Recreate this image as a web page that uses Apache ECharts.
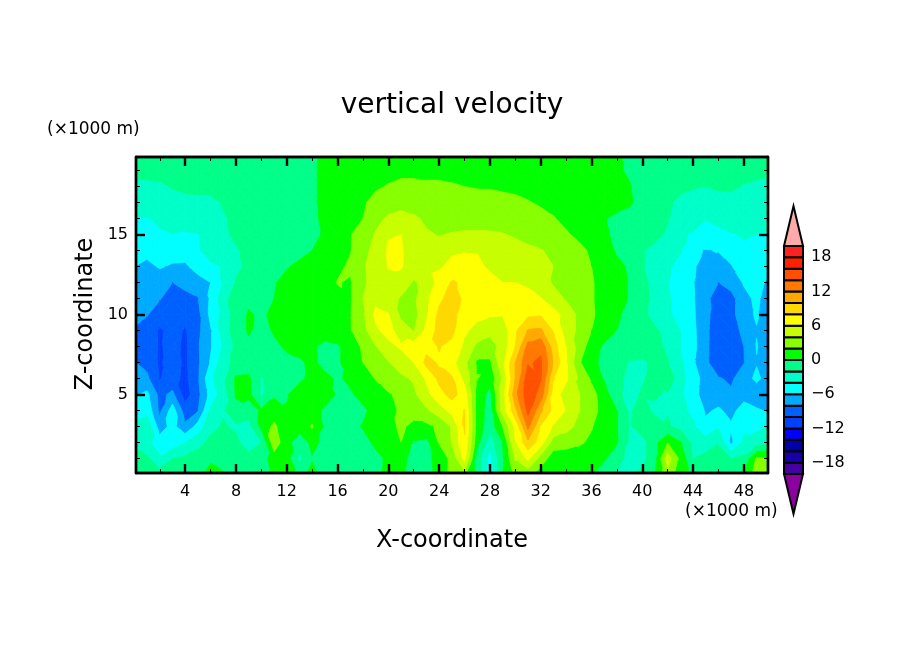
<!DOCTYPE html>
<html>
<head>
<meta charset="utf-8">
<style>
    html, body {margin: 0; padding: 0; background: #fff;}
    #chart {width: 904px; height: 654px;}
</style>
<script src="https://cdn.jsdelivr.net/npm/echarts@6/dist/echarts.min.js"></script>
</head>
<body>
<div id="chart"></div>
<script>
// grid nodes, x and z in units of 1000 m
let xNodes = [0,1,2,3,4,5,6,7,8,9,10,11,12,13,14,15,16,17,18,19,20,21,22,23,24,25,26,27,28,29,30,31,32,33,34,35,36,37,38,39,40,41,42,43,44,45,46,47,48,49,50];
let zNodes = [20,19,18,17,16,15,14,13,12,11,10,9,8,7,6,5,4,3,2,1,0];

// vertical velocity, one row per zNodes entry, x from 0 to 50
let velocity = [
    [-1.2,-1.2,-1.2,-1.2,-1.2,-1.2,-1.2,-1.2,-1.2,-1.2, -1.1,-.9,-.7,-.5,-.2,.3,.7,1,1,1, 1.1,1.2,1.2,1.2,1.2,1.2,1.2,1.2,1.1,1.1, 1,1,1,1,1,.9,.7,.5,.2,-.4, -.7,-.9,-1,-1,-1,-1,-1,-1,-1,-1, -1],
    [-1.6,-1.6,-1.6,-1.6,-1.5,-1.5,-1.4,-1.4,-1.3,-1.2, -1.1,-.9,-.7,-.5,-.2,.3,.8,1.1,1.2,1.4, 1.6,1.7,1.7,1.7,1.7,1.7,1.7,1.6,1.6,1.5, 1.4,1.3,1.2,1.1,1,.9,.7,.5,.2,-.2, -.8,-1,-1.1,-1.2,-1.4,-1.5,-1.4,-1.4,-1.5,-1.6, -1.7],
    [-2.3,-2.3,-2.2,-1.9,-1.7,-1.7,-1.6,-1.5,-1.4,-1.3, -1.2,-1,-.8,-.5,-.2,.3,.8,1.2,1.5,1.8, 2.1,2.3,2.3,2.2,2.2,2.1,2,1.9,1.9,1.8, 1.7,1.5,1.3,1.2,1.1,1,.8,.6,.3,.1, -.9,-1.2,-1.4,-1.7,-1.9,-2,-1.7,-1.7,-2.1,-2.3, -2.5],
    [-2.8,-2.7,-2.6,-2.5,-2.4,-2.3,-2.3,-1.9,-1.7,-1.5, -1.3,-1.1,-.9,-.6,-.2,.3,.9,1.3,1.8,2.5, 3.1,3.3,3.2,3,2.9,2.8,2.7,2.6,2.5,2.4, 2.3,2.1,1.8,1.6,1.4,1.2,1,.8,.5,.2, -.6,-1.2,-1.8,-2.3,-2.6,-2.9,-2.8,-2.7,-2.7,-2.8, -2.9],
    [-4.1,-4.1,-3.7,-3.3,-3,-2.8,-2.4,-2.1,-1.8,-1.6, -1.4,-1.2,-.9,-.6,-.2,.2,.8,1.4,2,3.4, 4.3,4.7,4.3,3.7,3.5,3.4,3.4,3.4,3.3,3.2, 3,2.8,2.5,2.1,1.6,1.3,.9,.1,-.3,-.5, -1,-1.5,-1.9,-2.8,-3.1,-3.9,-3.6,-3.2,-3,-2.9, -2.8],
    [-4.7,-4.5,-4.2,-4,-4.2,-4.1,-3,-2.2,-1.8,-1.6, -1.3,-1,-.8,-.5,-.2,.1,.6,1.9,2.8,4.2, 5.9,6,4.9,4.2,3.9,4.1,4.2,4.2,4.2,4.1, 3.8,3.5,3.1,2.6,2.2,1.6,1.1,.3,-.4,-.8, -1.2,-1.6,-2.2,-3.7,-4.2,-4.5,-4.4,-4.1,-3.9,-4, -4.5],
    [-5.2,-5.4,-5,-4.9,-4.9,-4.2,-3.3,-2.8,-2.1,-1.8, -1.5,-1.2,-.8,-.4,0,.4,1,1.9,3.2,4.8, 6.2,6.2,5,5.1,5.6,5.8,5.9,5.9,5.4,5, 4.6,4.3,4.1,3.6,3,2.5,1.7,.8,-.2,-.6, -1.9,-2.4,-2.9,-3.8,-5.7,-6.1,-5.9,-5.4,-4.2,-4.4, -4.8],
    [-6,-6.5,-5.8,-6.3,-6.4,-5,-4.3,-3.9,-2.2,-1.8, -1.2,-.8,-.1,.3,.7,1,1.6,2.3,3.7,5, 6.1,6.2,4.9,5.5,5.8,6.4,6.9,6.4,5.7,5.4, 5.2,5,4.6,4,3.3,2.8,2,1,.4,-.2, -1.9,-2.8,-3.7,-4.6,-5.8,-6.6,-7,-6.1,-5,-4.5, -5.5],
    [-6.8,-7,-7.3,-8,-7.5,-7,-6,-3.9,-1.9,-1.4, -.9,-.1,.4,.7,1,1.2,2.1,1.8,3.6,4.9, 5.5,5,3.8,4.6,6.7,8.2,7.7,7.4,6.7,6, 6,5.7,4.9,3.8,3.2,2.8,2.2,1.2,.6,-.1, -1.5,-2.6,-3.9,-5,-5.9,-7.3,-8,-7.2,-5.8,-5.2, -6.5],
    [-7.2,-7.5,-7.9,-8.8,-8.5,-8.1,-5.7,-2.6,-1.2,-.4, -.5,0,.6,.9,1.1,1.2,1.4,1.8,4,5.4, 4.8,3.8,3.6,5.6,7.6,8.8,7.7,7.6,7.5,7.2, 6.8,6.6,6.1,4.8,3.8,3,2.2,1.2,.5,-.1, -1.3,-2.5,-3.6,-5.2,-5.8,-7.6,-8.8,-8.7,-6.6,-5.6, -7],
    [-7.4,-7.9,-8.9,-9.2,-9.4,-8.6,-5.5,-3.3,-1.1,.2, -.3,.4,1,1.3,1.4,1.4,1.4,1.9,3.7,6.5, 6.1,3.6,3.2,5.7,8.5,8.7,7,6.5,6.2,6.1, 6.7,7.6,7.8,6.8,5.3,3.6,2.3,1.2,.3,-.6, -1.6,-2.5,-3.5,-5,-5.7,-7.4,-9.2,-8.7,-6.6,-5.8, -7.3],
    [-8.2,-8.8,-10.3,-9.3,-10.2,-8.5,-6.2,-3,-1,.2, -.6,.2,1,1.4,1.4,1.2,1.5,1.9,3.3,5.6, 6.8,4.9,3.9,6.5,8.7,8.5,6.3,5.4,4.6,4.8, 7.7,10.2,10.4,7.9,5.1,3.6,2,.9,0,-.8, -1.4,-1.8,-2.4,-4,-5.5,-7.5,-9.4,-9.3,-7.3,-6.1, -7],
    [-9,-8.9,-10.2,-9.4,-10.4,-8.2,-6.2,-3.7,-1.6,-.4, -1,-.4,.3,.4,.3,-.6,-.3,1.3,2.2,3.9, 5.4,6.3,7,7.4,8.1,7.5,5.6,3.5,3,4.8, 8,12.7,13.6,9,6,3.2,1,-.3,-.8,-1, -1.3,-1.7,-2.2,-4,-5.4,-7.5,-9.5,-9.5,-8,-5.9, -7],
    [-7.9,-8.6,-10.3,-9,-10.4,-8.3,-5.8,-2.6,-1.5,-1.2, -1,-.8,-.5,-.2,.3,-.5,-.3,.9,2,3, 3.9,4.7,6,8.6,7.8,6.7,4.5,1.7,1.7,5.5, 10,13.8,14.3,10,6.2,2.3,.5,-.5,-1.6,-2.1, -2.2,-1.7,-1.9,-3.6,-5.7,-7.5,-9.6,-9.6,-8.1,-6.1, -7],
    [-7,-7.6,-10.1,-9.3,-10.5,-8.2,-4.4,-2.4,.3,.4, -2.1,-1.3,-1,-.3,.4,.4,-.2,.3,1,2.1, 3,3.7,4.2,6.3,8.5,8.3,5.4,2.1,.6,4.3, 10,15.2,14.2,8.2,6.4,3.7,1.7,-.2,-1.6,-2.4, -2.2,-1.3,-.2,-3.5,-5,-6.9,-7.8,-8.4,-6.6,-5.7, -6.6],
    [-6.3,-5.5,-8.6,-7.5,-11,-8.6,-5.2,-3,.2,.6, -2.3,-.2,-.1,.8,1.1,1.2,-.3,-.2,.5,1.1, 1.8,2.5,3.6,5.4,7.3,8.7,7.1,1.3,-.6,5.2, 11.3,15.4,13.2,7.1,5,4.1,2.7,1,-1.6,-2.6, -1.8,-1.7,-2.3,-3.6,-5.2,-7,-6.7,-7.6,-6.5,-6.9, -7],
    [-5,-4.7,-8.4,-5,-9,-8.1,-3.6,-2.2,-.6,-1.2, .3,.7,.1,.6,.9,-.4,-.6,-.8,-.3,.6, 1.6,2.2,2.9,3.7,5,6.7,8.1,1.1,-.9,5, 9.5,14.6,10.5,7.4,5.9,4.1,2.8,1.2,.1,-2.3, -1,-2.5,-2.1,-3.4,-4.5,-6.2,-5.8,-6.4,-5.4,-5.8, -6.2],
    [-3.3,-2.6,-7,-5.3,-7.6,-5.2,-2.5,-1.8,-2.3,-2.6, .5,2.5,.3,.7,2.2,-.3,-1,-.3,.1,.4, 1.3,2.4,1.4,1.5,2.4,4.2,8.3,1.1,-1.2,2, 6.5,12.5,8,5.8,4.7,3.5,2.2,.5,.1,-2.2, -1,-.9,-1.8,-2.5,-3.6,-5.6,-4.2,-5.8,-4.3,-4.5, -3.9],
    [-2.5,-3.5,-5,-5.3,-4,-2.6,-1.5,-1.3,-1.5,-3, -2,3.3,.6,-1,.4,-.4,-1,-1.3,-.5,.3, 1.3,2,-.2,-.5,2.1,4.1,7.7,.6,-3,0, 5.9,9.5,7,3.1,2.9,2.4,1.5,.9,.2,-2.3, -2.7,-.6,1.9,.2,-2.5,-3,-2.1,-6.3,-3.6,-3, -2.4],
    [-.8,-1.6,-3.7,-2,-1.6,-1.2,-.2,-.8,-1.3,-1.3, -1,1,1,-2.5,-.1,-.8,-1.2,-1.5,-1.2,-.4, .3,.7,-.8,-.7,.9,2.5,6.7,-1,-4.7,-.3, 4.2,6.4,3.2,.9,.7,.6,.6,.3,-1.4,-2.5, -2.7,-.5,5,1.5,-2,-1.4,-1.4,-2,-1.6,2.2, 2],
    [.5,-.7,-1,-1,-.8,-.4,.5,.2,-.8,-1.1, -.9,.5,.4,-.5,.4,-.5,-.9,-1.4,-1.8,-.4, .5,.5,-1.2,-1,.8,2.6,3,-.5,-4.8,0, 2.8,2.5,1,.6,.5,.4,.1,-1.2,-2.2,-2.4, -1.2,.1,3.5,.5,-.8,-.7,-.8,-.9,.2,3, 3]
];

// contour levels and one colour per band, low to high
let levels = [-20,-18,-16,-14,-12,-10,-8,-6,-4,-2,0,2,4,6,8,10,12,14,16,18,20];
let bandColors = ['#4400a0','#1800a8','#0000a8','#0000ff','#0040ff','#0060ff','#00aaff','#00ffff','#00ffc8','#00ff88','#00ff00','#88ff00','#c8ff00','#ffff00','#ffd800','#ffa800','#ff7800','#ff5000','#ff2000','#ff2020'];
let overColor = '#ffaaaa';
let underColor = '#8c00a0';

let xMajor = [4,8,12,16,20,24,28,32,36,40,44,48];
let xMinor = [2,6,10,14,18,22,26,30,34,38,42,46];
let zMajor = [5,10,15];
let zMinor = [1,2,3,4,6,7,8,9,11,12,13,14,16,17,18,19];
let barLabels = [-18,-12,-6,0,6,12,18];

let fontName = '"DejaVu Sans"';

// part of a triangle [x, z, value] between two values
function clipTriangle(tri, lo, hi) {
    let clipOne = function (pts, limit, keepAbove) {
        let out = [];
        for (let i = 0; i < pts.length; i++) {
            let a = pts[i];
            let b = pts[(i + 1) % pts.length];
            let aIn = keepAbove ? a[2] >= limit : a[2] <= limit;
            let bIn = keepAbove ? b[2] >= limit : b[2] <= limit;
            if (aIn) {
                out.push(a);
            }
            if (aIn !== bIn) {
                let t = (limit - a[2]) / (b[2] - a[2]);
                out.push([a[0] + (b[0] - a[0]) * t, a[1] + (b[1] - a[1]) * t, limit]);
            }
        }
        return out;
    };
    let res = clipOne(tri, lo, true);
    if (res.length) {
        res = clipOne(res, hi, false);
    }
    return res;
}

// filled contours of one grid cell
function renderCell(params, api) {
    let i = api.value(2);
    let j = api.value(3);
    let p = function (col, row) {
        return [xNodes[col], zNodes[row], velocity[row][col]];
    };
    let a = p(i, j);
    let b = p(i + 1, j);
    let c = p(i + 1, j + 1);
    let d = p(i, j + 1);
    // cut along the diagonal with the closer values, ridges stay connected
    let tris = Math.abs(a[2] - c[2]) <= Math.abs(b[2] - d[2]) ? [[a, b, c], [a, c, d]] : [[a, b, d], [b, c, d]];
    let children = [];
    tris.forEach(function (tri) {
        bandColors.forEach(function (color, k) {
            let poly = clipTriangle(tri, levels[k], levels[k + 1]);
            if (poly.length > 2) {
                children.push({
                    type: 'polygon',
                    shape: {
                        points: poly.map(function (q) {
                            return api.coord([q[0], q[1]]);
                        })
                    },
                    style: {fill: color, stroke: color, lineWidth: 0.8}
                });
            }
        });
    });
    return {type: 'group', children: children};
}

// one box of the colour bar, -1 and -2 are the end triangles
function renderBar(params, api) {
    let k = api.value(0);
    let style = {stroke: '#000', lineWidth: 2};
    let points;
    if (k < 0) {
        let base = k === -1 ? levels[0] : levels[levels.length - 1];
        let tip = k === -1 ? -27 : 27;
        points = [api.coord([0, base]), api.coord([1, base]), api.coord([0.5, tip])];
        style.fill = k === -1 ? underColor : overColor;
    } else {
        points = [
            api.coord([0, levels[k]]),
            api.coord([1, levels[k]]),
            api.coord([1, levels[k + 1]]),
            api.coord([0, levels[k + 1]])
        ];
        style.fill = bandColors[k];
    }
    return {type: 'polygon', shape: {points: points}, style: style};
}

function boxAxis(position, range, ticks, tickLen, tickWidth, withLabels) {
    let vertical = position === 'left' || position === 'right';
    return {
        type: 'value',
        gridIndex: 0,
        position: position,
        min: range[0],
        max: range[1],
        z: 5,
        splitLine: {show: false},
        axisLine: {show: true, onZero: false, lineStyle: {color: '#000', width: 2.4}},
        axisTick: {
            show: true,
            inside: true,
            length: tickLen,
            customValues: ticks,
            lineStyle: {color: '#000', width: tickWidth}
        },
        axisLabel: {
            show: withLabels,
            customValues: ticks,
            margin: vertical ? 8 : 11,
            padding: vertical ? [4, 0, 0, 0] : 0,
            color: '#000',
            fontFamily: fontName,
            fontSize: 16
        }
    };
}

let cells = [];
for (let i = 0; i < xNodes.length - 1; i++) {
    for (let j = 0; j < zNodes.length - 1; j++) {
        cells.push([xNodes[i], zNodes[j], i, j]);
    }
}
let barItems = [[-1], [-2]];
bandColors.forEach(function (c, k) {
    barItems.push([k]);
});

let xRange = [0.125, 49.9];
let zRange = [0.1, 19.85];

let unitStyle = {fontFamily: fontName, fontSize: 17, fill: '#000'};

let chart = echarts.init(document.getElementById('chart'), null, {renderer: 'canvas'});
chart.setOption({
    animation: false,
    backgroundColor: '#fff',
    title: {
        text: 'vertical velocity',
        left: 447,
        top: 87,
        textAlign: 'center',
        textStyle: {fontFamily: fontName, fontSize: 28, fontWeight: 'normal', color: '#000'}
    },
    graphic: [
        {type: 'text', left: 47, top: 121, style: Object.assign({text: '(×1000 m)'}, unitStyle)},
        {type: 'text', left: 685, top: 503, style: Object.assign({text: '(×1000 m)'}, unitStyle)},
        {type: 'text', left: 376, top: 529, style: {text: 'X-coordinate', fontFamily: fontName, fontSize: 24, fill: '#000'}},
        {
            type: 'text',
            x: 86,
            y: 314,
            rotation: Math.PI / 2,
            style: {text: 'Z-coordinate', fontFamily: fontName, fontSize: 24, fill: '#000', align: 'center', verticalAlign: 'middle'}
        }
    ],
    grid: [
        {left: 136, top: 157, width: 632, height: 316},
        {left: 784, top: 206, width: 19, height: 308}
    ],
    xAxis: [
        boxAxis('bottom', xRange, xMajor, 9, 2.4, true),
        boxAxis('bottom', xRange, xMinor, 4, 1, false),
        boxAxis('top', xRange, xMajor, 9, 2.4, false),
        boxAxis('top', xRange, xMinor, 4, 1, false),
        {type: 'value', gridIndex: 1, min: 0, max: 1, show: false}
    ],
    yAxis: [
        boxAxis('left', zRange, zMajor, 9, 2.4, true),
        boxAxis('left', zRange, zMinor, 4, 1, false),
        boxAxis('right', zRange, zMajor, 9, 2.4, false),
        boxAxis('right', zRange, zMinor, 4, 1, false),
        {
            type: 'value',
            gridIndex: 1,
            position: 'right',
            min: -27,
            max: 27,
            splitLine: {show: false},
            axisLine: {show: false},
            axisTick: {show: false},
            axisLabel: {
                customValues: barLabels,
                margin: 8,
                padding: [4, 0, 0, 0],
                color: '#000',
                fontFamily: fontName,
                fontSize: 16,
                formatter: function (v) {
                    return String(v).replace('-', '−');
                }
            }
        }
    ],
    series: [
        {
            type: 'custom',
            xAxisIndex: 0,
            yAxisIndex: 0,
            clip: true,
            silent: true,
            encode: {x: 0, y: 1},
            renderItem: renderCell,
            data: cells
        },
        {
            type: 'custom',
            xAxisIndex: 4,
            yAxisIndex: 4,
            silent: true,
            renderItem: renderBar,
            data: barItems
        }
    ]
});
</script>
</body>
</html>
